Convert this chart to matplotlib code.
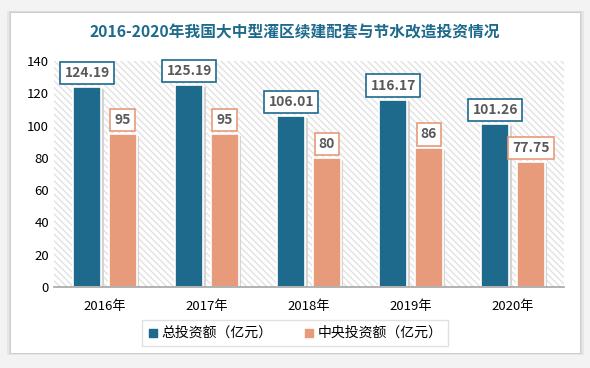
import numpy as np
import matplotlib.pyplot as plt
from matplotlib.patches import Rectangle

plt.rcParams['font.family'] = ['Noto Sans CJK SC', 'DejaVu Sans']

years = ['2016年', '2017年', '2018年', '2019年', '2020年']
total = [124.19, 125.19, 106.01, 116.17, 101.26]
central = [95, 95, 80, 86, 77.75]
total_lbl = ['124.19', '125.19', '106.01', '116.17', '101.26']
central_lbl = ['95', '95', '80', '86', '77.75']

blue = '#1d6a8d'
orange = '#e89b7a'

fig = plt.figure(figsize=(5.9, 3.68), dpi=100)
fig.patch.set_facecolor('#f3f3f3')
# white card with soft shadow
for i in range(3):
    d = (i + 1) * 0.002
    fig.patches.append(Rectangle((0.0186 - d, 0.041 - d), 0.9644 + 2 * d, 0.924 + 2 * d,
                                 transform=fig.transFigure, facecolor='#000000', alpha=0.05,
                                 edgecolor='none', zorder=-10))
fig.patches.append(Rectangle((0.0186, 0.041), 0.9644, 0.924, transform=fig.transFigure,
                             facecolor='white', edgecolor='none', zorder=-9))

ax = fig.add_axes([0.0915, 0.220, 0.8645, 0.614])
ax.set_facecolor('white')
ax.patch.set_hatch('\\\\\\\\\\')
ax.patch.set_edgecolor('#e2e2e2')
ax.patch.set_linewidth(0)

x = np.arange(len(years))
w = 0.275
off = 0.175
# shadows
ax.bar(x - off + 0.025, total, w, bottom=-1.2, color='#d4d4d4', zorder=1)
ax.bar(x + off + 0.025, central, w, bottom=-1.2, color='#d4d4d4', zorder=1)
ax.bar(x - off, total, w, color=blue, edgecolor='white', linewidth=1.2, zorder=2)
ax.bar(x + off, central, w, color=orange, edgecolor='white', linewidth=1.2, zorder=2)

for i in range(len(years)):
    ax.annotate(total_lbl[i], (x[i] - off, total[i]), xytext=(0, 10), textcoords='offset points',
                ha='center', va='center', fontsize=10, fontweight='bold', color='#595959',
                bbox=dict(boxstyle='square,pad=0.3', fc='white', ec=blue, lw=1.2), zorder=5)
    ax.annotate(central_lbl[i], (x[i] + off, central[i]), xytext=(0, 10), textcoords='offset points',
                ha='center', va='center', fontsize=10, fontweight='bold', color='#595959',
                bbox=dict(boxstyle='square,pad=0.3', fc='white', ec=orange, lw=1.2), zorder=5)

ax.set_xlim(-0.5, 4.5)
ax.set_ylim(0, 140)
ax.set_yticks(np.arange(0, 141, 20))
ax.set_xticks(x)
ax.set_xticklabels(years)
ax.tick_params(axis='both', length=0, labelsize=9.5, colors='#000000')
ax.tick_params(axis='x', pad=9)
for s in ['top', 'right', 'left']:
    ax.spines[s].set_visible(False)
ax.spines['bottom'].set_color('#a6a6a6')
ax.spines['bottom'].set_linewidth(1.2)

h1 = ax.scatter([], [], marker='s', color=blue, s=30)
h2 = ax.scatter([], [], marker='s', color=orange, s=30)
leg = fig.legend([h1, h2], ['总投资额（亿元）', '中央投资额（亿元）'], loc='center',
                 bbox_to_anchor=(0.5, 0.095), ncol=2, frameon=True, fancybox=False,
                 fontsize=10, handlelength=0.8, handletextpad=0.2, columnspacing=2.2,
                 borderpad=0.4)
leg.get_frame().set_edgecolor('#d9d9d9')

fig.text(0.5, 0.912, '2016-2020年我国大中型灌区续建配套与节水改造投资情况', ha='center', va='center',
         fontsize=11.3, fontweight='bold', color='#1d6a8d')

fig.savefig('out.png', dpi=100, facecolor=fig.get_facecolor())
